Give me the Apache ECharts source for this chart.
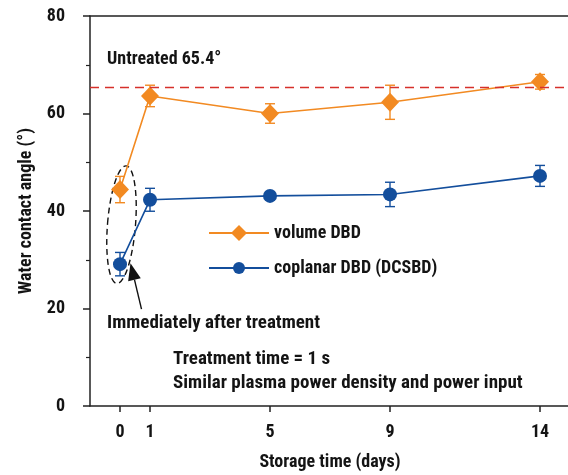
<!DOCTYPE html>
<html><head><meta charset="utf-8">
<script src="https://cdn.jsdelivr.net/npm/echarts@6/dist/echarts.min.js"></script>
<style>html,body{margin:0;padding:0;background:#fff}#c{width:568px;height:475px}</style>
</head><body><div id="c"></div>
<script>
const days = [0, 1, 5, 9, 14];
const xTicks = [0, 1, 5, 9, 14];
const volumeDBD = [44.4, 63.6, 60.0, 62.3, 66.5];
const volumeErr = [2.7, 2.2, 2.0, 3.5, 1.5];
const coplanarDBD = [29.1, 42.3, 43.1, 43.4, 47.2];
const coplanarErr = [2.4, 2.35, 0.8, 2.5, 2.15];
const untreated = 65.4;
const names = ['volume DBD', 'coplanar DBD (DCSBD)'];

const FONT = '"Roboto Condensed","DejaVu Sans Condensed",sans-serif';
const FS = 18;
const ORANGE = '#F28A22';
const BLUE = '#134E9C';
const TXT = '#141414';

function errData(vals, errs) {
  return days.map((d, i) => [d, vals[i] - errs[i], vals[i] + errs[i]]);
}
function errRender(color) {
  return function (params, api) {
    const x = api.value(0);
    const lo = api.coord([x, api.value(1)]);
    const hi = api.coord([x, api.value(2)]);
    const w = 5;
    const st = { stroke: color, lineWidth: 1.4 };
    return { type: 'group', children: [
      { type: 'line', shape: { x1: lo[0], y1: lo[1], x2: hi[0], y2: hi[1] }, style: st },
      { type: 'line', shape: { x1: lo[0] - w, y1: lo[1], x2: lo[0] + w, y2: lo[1] }, style: st },
      { type: 'line', shape: { x1: hi[0] - w, y1: hi[1], x2: hi[0] + w, y2: hi[1] }, style: st }
    ]};
  };
}
const legendText = { fontFamily: FONT, fontSize: FS, fontWeight: 'bold', color: TXT };

const chart = echarts.init(document.getElementById('c'));
chart.setOption({
  animation: false,
  textStyle: { fontFamily: FONT },
  grid: { left: 90, top: 16, width: 480, height: 390, containLabel: false, outerBoundsMode: 'none' },
  legend: [
    { data: [names[0]], orient: 'vertical', left: 203, top: 219, itemWidth: 60, itemHeight: 20, textStyle: legendText },
    { data: [names[1]], orient: 'vertical', left: 203, top: 254, itemWidth: 60, itemHeight: 15, textStyle: legendText }
  ],
  xAxis: [{
    type: 'value', min: -1, max: 15, position: 'bottom',
    name: 'Storage time (days)', nameLocation: 'middle', nameGap: 47,
    nameTextStyle: { fontFamily: FONT, fontSize: FS, fontWeight: 'bold', color: TXT },
    axisLine: { onZero: false, lineStyle: { color: '#222', width: 1.5 } },
    axisTick: { customValues: xTicks, length: 6, lineStyle: { color: '#222', width: 1.5 } },
    axisLabel: { customValues: xTicks, margin: 17, fontFamily: FONT, fontSize: FS, fontWeight: 'bold', color: TXT },
    splitLine: { show: false }
  }, {
    type: 'value', min: -1, max: 15, position: 'top',
    axisLine: { show: true, onZero: false, lineStyle: { color: '#222', width: 1.5 } },
    axisTick: { show: false }, axisLabel: { show: false }, splitLine: { show: false }
  }],
  yAxis: {
    type: 'value', min: 0, max: 80, interval: 20,
    name: 'Water contact angle (°)', nameLocation: 'middle', nameGap: 50,
    nameTextStyle: { fontFamily: FONT, fontSize: FS, fontWeight: 'bold', color: TXT },
    axisLine: { show: true, onZero: false, lineStyle: { color: '#222', width: 1.5 } },
    axisTick: { show: true, length: 7, lineStyle: { color: '#222', width: 1.5 } },
    minorTick: { show: true, splitNumber: 2, length: 4, lineStyle: { color: '#222', width: 1.2 } },
    axisLabel: { margin: 25, fontFamily: FONT, fontSize: FS, fontWeight: 'bold', color: TXT },
    splitLine: { show: false }
  },
  series: [
    { type: 'custom', name: 'errV', z: 1, renderItem: errRender(ORANGE), data: errData(volumeDBD, volumeErr), silent: true },
    { type: 'custom', name: 'errC', z: 1, renderItem: errRender(BLUE), data: errData(coplanarDBD, coplanarErr), silent: true },
    {
      type: 'line', name: names[0], z: 3, data: days.map((d, i) => [d, volumeDBD[i]]),
      symbol: 'diamond', symbolSize: [18, 19], itemStyle: { color: ORANGE },
      lineStyle: { color: ORANGE, width: 1.6 },
      markLine: {
        silent: true, symbol: 'none', label: { show: false },
        lineStyle: { color: '#D6302B', type: [9, 6], width: 1.3 },
        data: [{ yAxis: untreated }]
      }
    },
    {
      type: 'line', name: names[1], z: 3, data: days.map((d, i) => [d, coplanarDBD[i]]),
      symbol: 'circle', symbolSize: 14, itemStyle: { color: BLUE },
      lineStyle: { color: BLUE, width: 1.6 }
    }
  ]
});

// annotations positioned relative to data coordinates
const pEll = chart.convertToPixel({ xAxisIndex: 0, yAxisIndex: 0 }, [0.05, 37.2]);
const pTip = chart.convertToPixel({ xAxisIndex: 0, yAxisIndex: 0 }, [0.35, 29.3]);
const tail = [pTip[0] + 11, pTip[1] + 46];
const dx = pTip[0] - tail[0], dy = pTip[1] - tail[1];
const L = Math.hypot(dx, dy), ux = dx / L, uy = dy / L;
const hl = 17, hw = 6.5;
const base = [pTip[0] - ux * hl, pTip[1] - uy * hl];
const txtStyle = (t, x, y, fs) => ({
  type: 'text', x: x, y: y, style: { text: t, fontFamily: FONT, fontSize: fs, fontWeight: 'bold', fill: TXT, textVerticalAlign: 'middle' }
});
chart.setOption({
  graphic: [
    { type: 'ellipse', x: pEll[0], y: pEll[1], rotation: -0.08, shape: { cx: 0, cy: 0, rx: 14, ry: 59 },
      style: { fill: 'none', stroke: '#111', lineWidth: 1.4, lineDash: [6, 4] } },
    { type: 'line', shape: { x1: tail[0], y1: tail[1], x2: base[0], y2: base[1] }, style: { stroke: '#111', lineWidth: 1.4 } },
    { type: 'polygon', shape: { points: [pTip, [base[0] - uy * hw, base[1] + ux * hw], [base[0] + uy * hw, base[1] - ux * hw]] }, style: { fill: '#111' } },
    txtStyle('Untreated 65.4°', 107, 59, FS),
    txtStyle('Immediately after treatment', 107, 323, 19),
    txtStyle('Treatment time = 1 s', 173, 359, 19),
    txtStyle('Similar plasma power density and power input', 173, 383, 19)
  ]
});
</script></body></html>
